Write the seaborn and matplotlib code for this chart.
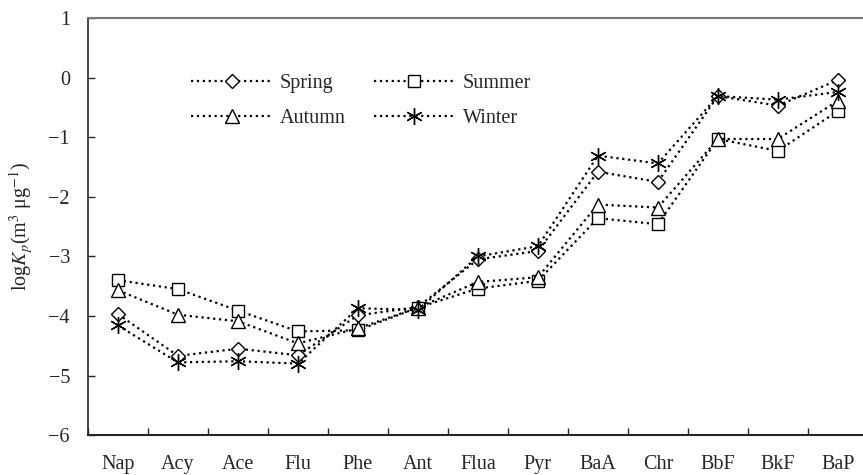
import numpy as np
import pandas as pd
import seaborn as sns
import matplotlib.pyplot as plt

# PAH compounds on x axis
compounds = ['Nap', 'Acy', 'Ace', 'Flu', 'Phe', 'Ant', 'Flua', 'Pyr',
             'BaA', 'Chr', 'BbF', 'BkF', 'BaP']

# logKp per season
spring = [-3.97, -4.67, -4.55, -4.66, -3.99, -3.85, -3.05, -2.91, -1.58, -1.75, -0.31, -0.47, -0.04]
summer = [-3.40, -3.55, -3.91, -4.26, -4.24, -3.86, -3.54, -3.41, -2.36, -2.46, -1.03, -1.23, -0.56]
autumn = [-3.57, -3.98, -4.09, -4.46, -4.21, -3.86, -3.43, -3.35, -2.13, -2.18, -1.03, -1.03, -0.39]
winter = [-4.16, -4.78, -4.76, -4.80, -3.87, -3.90, -3.00, -2.83, -1.31, -1.44, -0.31, -0.37, -0.24]

seasons = ['Spring', 'Summer', 'Autumn', 'Winter']
markers = {'Spring': 'D', 'Summer': 's', 'Autumn': '^', 'Winter': (6, 2, 0)}
msizes = {'Spring': 7, 'Summer': 9, 'Autumn': 10, 'Winter': 12}

rows = []
for name, vals in zip(seasons, [spring, summer, autumn, winter]):
    for i, v in enumerate(vals):
        rows.append({'season': name, 'pos': i + 0.5, 'logKp': v})
df = pd.DataFrame(rows)

sns.set_style('ticks')
plt.rcParams['font.family'] = ['Liberation Serif', 'DejaVu Serif']
plt.rcParams['mathtext.fontset'] = 'stix'
fs = 14.5

fig = plt.figure(figsize=(8.63, 4.75), dpi=100)
ax = fig.add_axes([0.102, 0.084, 0.898, 0.878])

for s in seasons:
    sub = df[df['season'] == s]
    sns.lineplot(data=sub, x='pos', y='logKp', ax=ax, color='black',
                 linestyle=':', linewidth=1.6, marker=markers[s],
                 markersize=msizes[s], markerfacecolor='white',
                 markeredgecolor='black', markeredgewidth=1.0, label=s)

ax.set_xlim(0, 12.92)
ax.set_ylim(-6, 1)
ax.set_yticks(np.arange(-6, 2, 1))
ax.set_yticklabels([f'{v}'.replace('-', '\u2212') for v in range(-6, 2)])
ax.set_xticks(np.arange(0, 13, 1))
ax.set_xticklabels([])
ax.set_xticks(np.arange(0.5, 13, 1), minor=True)
ax.set_xticklabels(compounds, minor=True)
ax.tick_params(axis='x', which='major', direction='in', length=5, width=1)
ax.tick_params(axis='x', which='minor', length=0, pad=14, labelsize=fs)
ax.tick_params(axis='y', direction='in', length=5, width=1, pad=13, labelsize=fs)

ax.set_xlabel('')
ax.set_ylabel(r'log$K_p$(m$^3$ μg$^{-1}$)', fontsize=fs, labelpad=10)

ax.spines['right'].set_visible(False)
ax.spines['top'].set_color('#777777')
ax.spines['top'].set_linewidth(1.5)
ax.spines['left'].set_linewidth(1.2)
ax.spines['bottom'].set_linewidth(1.5)

# column-major fill: Spring/Summer on first row, Autumn/Winter on second
handles, labels = ax.get_legend_handles_labels()
order = [0, 2, 1, 3]
ax.legend([handles[i] for i in order], [labels[i] for i in order],
          loc='upper left', bbox_to_anchor=(0.11, 0.91), ncol=2, frameon=False,
          fontsize=fs, handlelength=4.0, columnspacing=1.4, labelspacing=0.8,
          handletextpad=0.4)

fig.savefig('out.png', dpi=100)
